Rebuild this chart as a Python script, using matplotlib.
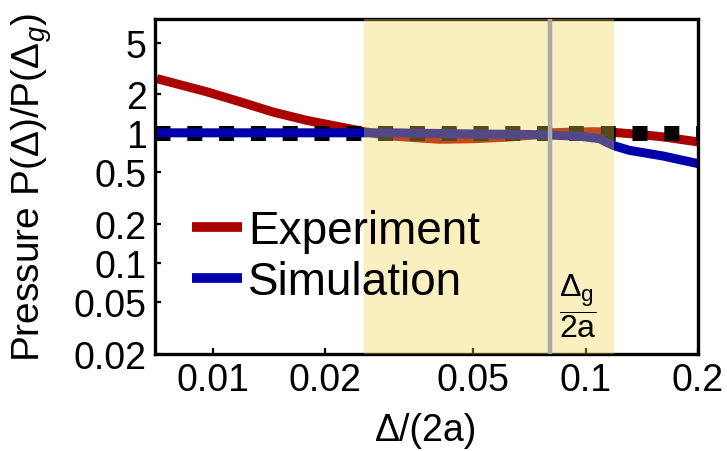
import matplotlib
matplotlib.use("Agg")
import matplotlib.pyplot as plt
from matplotlib.ticker import FixedLocator, FixedFormatter, NullLocator

plt.rcParams["font.family"] = ["Liberation Sans", "DejaVu Sans"]
plt.rcParams["mathtext.fontset"] = "custom"
plt.rcParams["mathtext.rm"] = "Liberation Sans"
plt.rcParams["mathtext.it"] = "Liberation Sans:italic"

# --- data ---
x_exp = [0.00708, 0.00964, 0.01184, 0.0145, 0.01786, 0.0210, 0.0235, 0.0255,
         0.030, 0.0406, 0.050, 0.0613, 0.0753, 0.0801, 0.090, 0.105, 0.118,
         0.140, 0.161, 0.200]
y_exp = [2.64, 2.09, 1.75, 1.46, 1.26, 1.15, 1.08, 1.03,
         0.955, 0.90, 0.91, 0.935, 0.98, 1.01, 1.02, 1.03, 1.02,
         0.98, 0.94, 0.86]

x_sim = [0.0070, 0.020, 0.030, 0.050, 0.0708, 0.080, 0.0965, 0.109, 0.114,
         0.1196, 0.131, 0.161, 0.200]
y_sim = [1.01, 1.01, 1.01, 0.99, 0.98, 0.97, 0.95, 0.91, 0.85,
         0.80, 0.74, 0.67, 0.585]

baseline = 1.0
band = (0.0255, 0.119)      # shaded window
delta_g = 0.0801            # Δg/(2a)

x_ticks = [0.01, 0.02, 0.05, 0.1, 0.2]
x_ticklabels = ["0.01", "0.02", "0.05", "0.1", "0.2"]
y_ticks = [0.02, 0.05, 0.1, 0.2, 0.5, 1, 2, 5]
y_ticklabels = ["0.02", "0.05", "0.1", "0.2", "0.5", "1", "2", "5"]

RED = "#AA0000"
BLUE = "#0000AA"

fig = plt.figure(figsize=(7.27, 4.52), dpi=100)
ax = fig.add_axes([155 / 727, 97 / 452, 543 / 727, 335 / 452])

ax.plot(x_exp, y_exp, color=RED, lw=6.5, solid_capstyle="butt",
        zorder=2, label="Experiment")
ax.axhline(baseline, color="black", lw=10.8, ls=(0, (1.0, 1.12)),
           dash_capstyle="butt", zorder=2.1)
ax.plot(x_sim, y_sim, color=BLUE, lw=6.5, solid_capstyle="butt",
        zorder=2.2, label="Simulation")

ax.axvspan(*band, color="#F2D24A", alpha=0.35, lw=0, zorder=3)
ax.axvline(delta_g, color="#AAAAAA", lw=3.2, zorder=3.5)
ax.text(delta_g * 1.19, 0.0475,
        r"$\dfrac{\mathregular{\Delta_g}}{\mathregular{2a}}$",
        fontsize=23, ha="center", va="center", zorder=4)

ax.set_xscale("log")
ax.set_yscale("log")
ax.set_xlim(0.0070, 0.2)
ax.set_ylim(0.0200, 7.6)

ax.xaxis.set_major_locator(FixedLocator(x_ticks))
ax.xaxis.set_major_formatter(FixedFormatter(x_ticklabels))
ax.yaxis.set_major_locator(FixedLocator(y_ticks))
ax.yaxis.set_major_formatter(FixedFormatter(y_ticklabels))
ax.xaxis.set_minor_locator(NullLocator())
ax.yaxis.set_minor_locator(NullLocator())
ax.tick_params(direction="in", length=4, width=1.6, labelsize=27, pad=6)

for s in ax.spines.values():
    s.set_linewidth(2.4)

ax.set_xlabel("Δ/(2a)", fontsize=27, labelpad=10)
ax.set_ylabel(r"Pressure P(Δ)/P(Δ$_g$)", fontsize=28, labelpad=14)

leg = ax.legend(loc="center left", bbox_to_anchor=(0.068, 0.29),
                frameon=False, fontsize=33, handlelength=1.1,
                handletextpad=0.12, labelspacing=0.15, borderpad=0,
                borderaxespad=0)
for h in leg.get_lines():
    h.set_linewidth(7)

fig.savefig("out.png", dpi=100)
